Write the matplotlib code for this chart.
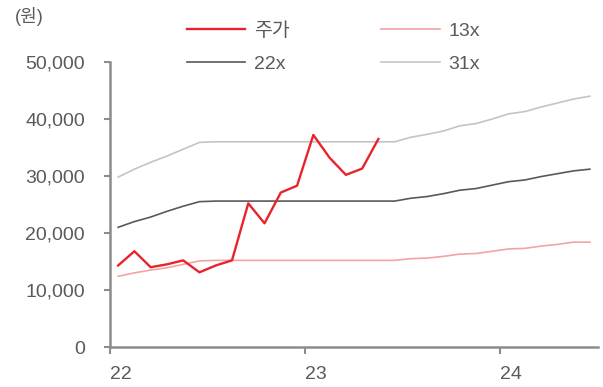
import numpy as np
import matplotlib
matplotlib.use('Agg')
import matplotlib.pyplot as plt
from matplotlib.ticker import FuncFormatter

plt.rcParams['font.family'] = ['Liberation Sans', 'Noto Sans CJK KR']

# monthly points, year 22 .. mid 24
months = np.arange(30)
x = 22 + (months + 0.5) / 12

price = [14300, 16800, 14000, 14500, 15200, 13100, 14300, 15200, 25200, 21700,
         27100, 28300, 37200, 33200, 30200, 31300, 36500]

pbr13 = [12400, 13000, 13500, 13900, 14500, 15100, 15200, 15200, 15200, 15200,
         15200, 15200, 15200, 15200, 15200, 15200, 15200, 15200, 15500, 15600,
         15900, 16300, 16400, 16800, 17200, 17300, 17700, 18000, 18400, 18400]

pbr22 = [21000, 22000, 22800, 23800, 24700, 25500, 25600, 25600, 25600, 25600,
         25600, 25600, 25600, 25600, 25600, 25600, 25600, 25600, 26100, 26400,
         26900, 27500, 27800, 28400, 29000, 29300, 29900, 30400, 30900, 31200]

pbr31 = [29800, 31200, 32400, 33500, 34700, 35900, 36000, 36000, 36000, 36000,
         36000, 36000, 36000, 36000, 36000, 36000, 36000, 36000, 36800, 37300,
         37900, 38800, 39200, 40000, 40900, 41300, 42100, 42800, 43500, 44000]

year_ticks = [22, 23, 24]
year_labels = ['22', '23', '24']

fig = plt.figure(figsize=(6.03, 3.87), dpi=100)
ax = fig.add_axes([110 / 603, 40 / 387, 488 / 603, 285 / 387])

ax.plot(x[:len(price)], price, color='#e8232b', lw=1.7, label='주가', zorder=5)
ax.plot(x, pbr13, color='#f4a3a6', lw=1.2, label='13x')
ax.plot(x, pbr22, color='#595959', lw=1.2, label='22x')
ax.plot(x, pbr31, color='#c4c4c4', lw=1.2, label='31x')

ax.set_xlim(22, 24.5)
ax.set_ylim(0, 50000)
ax.set_yticks(np.arange(0, 50001, 10000))
ax.yaxis.set_major_formatter(FuncFormatter(lambda v, p: f'{int(v):,}'))
ax.set_xticks(year_ticks)
ax.set_xticklabels(year_labels, ha='left')

for s in ['top', 'right']:
    ax.spines[s].set_visible(False)
for s in ['left', 'bottom']:
    ax.spines[s].set_color('#8c8c8c')
    ax.spines[s].set_linewidth(1.8)

ax.tick_params(axis='y', direction='out', length=4, width=1.5, color='#8c8c8c',
               labelsize=14, labelcolor='#5a5a5a', pad=14)
ax.tick_params(axis='x', direction='out', length=5, width=1.5, color='#8c8c8c',
               labelsize=14, labelcolor='#5a5a5a', pad=9)

fig.text(15 / 603, 1 - 17 / 387, '(원)', fontsize=13, color='#5a5a5a', va='center')

h, l = ax.get_legend_handles_labels()
order = [0, 2, 1, 3]
fig.legend([h[i] for i in order], [l[i] for i in order],
           loc='upper left', bbox_to_anchor=(187 / 603, 1 - 22 / 387),
           ncol=2, frameon=False, fontsize=14, handlelength=3.0,
           handletextpad=0.45, columnspacing=4.7, labelspacing=0.8,
           borderpad=0, borderaxespad=0, labelcolor='#5a5a5a')

fig.savefig('out.png', dpi=100)
